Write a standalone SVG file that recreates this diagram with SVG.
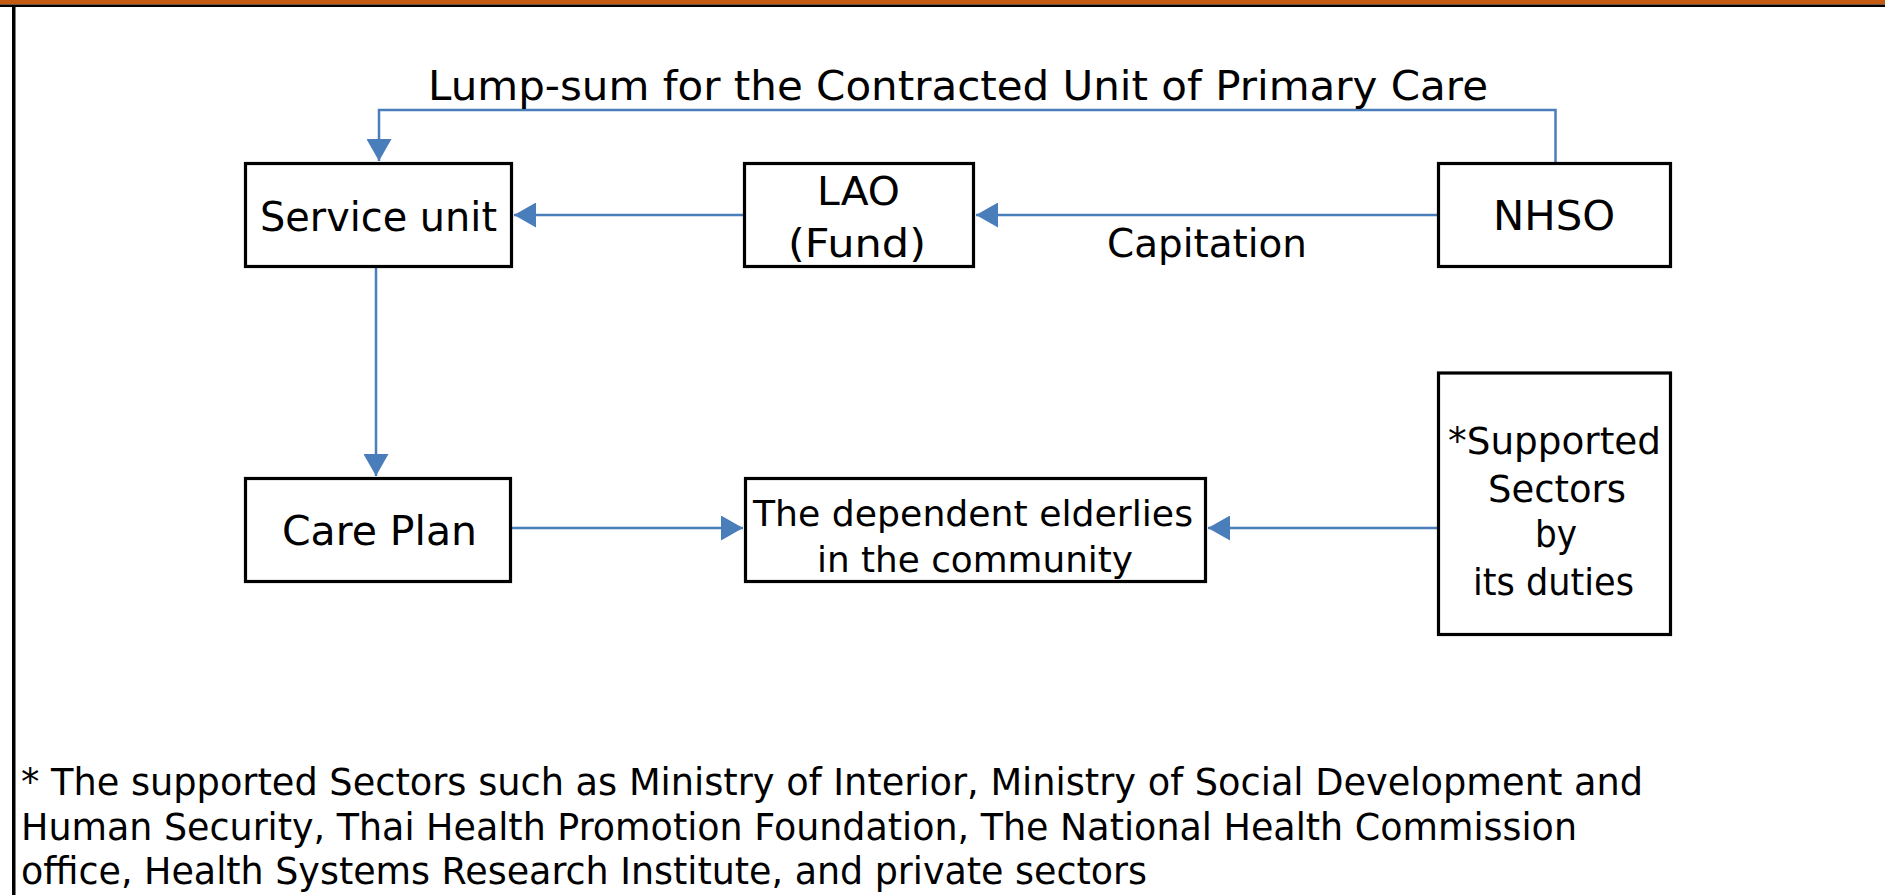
<svg xmlns="http://www.w3.org/2000/svg" width="1885" height="895" viewBox="0 0 1885 895">
<style>
.box{fill:#ffffff;stroke:#000000;stroke-width:3.2}
.t{font-family:"DejaVu Sans","Liberation Sans",sans-serif;fill:#000000}
.c{fill:none;stroke:#4A7EBB;stroke-width:2.5}
</style>
<defs>
<marker id="ah" markerUnits="userSpaceOnUse" markerWidth="22" markerHeight="25" refX="22" refY="12.5" orient="auto">
<path d="M0,0 L22,12.5 L0,25 z" fill="#4A7EBB"/>
</marker>
</defs>
<rect x="0" y="0" width="1885" height="895" fill="#ffffff"/>
<rect x="0" y="0" width="1885" height="4.5" fill="#C55A11"/>
<rect x="0" y="4.5" width="1885" height="2.5" fill="#000000"/>
<rect x="12" y="5" width="3.5" height="890" fill="#000000"/>
<g id="connectors">
<path class="c" d="M1555.5,162 V110 H379 V161" marker-end="url(#ah)"/>
<path class="c" d="M743,215 H514" marker-end="url(#ah)"/>
<path class="c" d="M1437,215 H976" marker-end="url(#ah)"/>
<path class="c" d="M376,268 V476" marker-end="url(#ah)"/>
<path class="c" d="M512,528 H743" marker-end="url(#ah)"/>
<path class="c" d="M1437,528 H1208" marker-end="url(#ah)"/>
<text class="t" x="428" y="100" font-size="40" textLength="1060" lengthAdjust="spacingAndGlyphs">Lump-sum for the Contracted Unit of Primary Care</text>
<text class="t" x="1107" y="257" font-size="39" textLength="200" lengthAdjust="spacingAndGlyphs">Capitation</text>
</g>
<g id="service-unit">
<rect class="box" x="245.5" y="163.5" width="266" height="103"/>
<text class="t" x="260" y="231" font-size="40" textLength="237" lengthAdjust="spacingAndGlyphs">Service unit</text>
</g>
<g id="lao">
<rect class="box" x="744.5" y="163.5" width="229" height="103"/>
<text class="t" x="817" y="205" font-size="39" textLength="83" lengthAdjust="spacingAndGlyphs">LAO</text>
<text class="t" x="788" y="257" font-size="39" textLength="138" lengthAdjust="spacingAndGlyphs">(Fund)</text>
</g>
<g id="nhso">
<rect class="box" x="1438.5" y="163.5" width="232" height="103"/>
<text class="t" x="1493" y="230" font-size="40" textLength="122" lengthAdjust="spacingAndGlyphs">NHSO</text>
</g>
<g id="care-plan">
<rect class="box" x="245.5" y="478.5" width="265" height="103"/>
<text class="t" x="282" y="545" font-size="40" textLength="195" lengthAdjust="spacingAndGlyphs">Care Plan</text>
</g>
<g id="elderly">
<rect class="box" x="745.5" y="478.5" width="460" height="103"/>
<text class="t" x="753" y="526" font-size="36" textLength="440" lengthAdjust="spacingAndGlyphs">The dependent elderlies</text>
<text class="t" x="817" y="572" font-size="36" textLength="316" lengthAdjust="spacingAndGlyphs">in the community</text>
</g>
<g id="supported">
<rect class="box" x="1438.5" y="373" width="232" height="261.5"/>
<text class="t" x="1448" y="454" font-size="38" textLength="213" lengthAdjust="spacingAndGlyphs">*Supported</text>
<text class="t" x="1488" y="502" font-size="38" textLength="138" lengthAdjust="spacingAndGlyphs">Sectors</text>
<text class="t" x="1535" y="547" font-size="38" textLength="42" lengthAdjust="spacingAndGlyphs">by</text>
<text class="t" x="1473" y="595" font-size="38" textLength="161" lengthAdjust="spacingAndGlyphs">its duties</text>
</g>
<g id="footnote">
<text class="t" x="21" y="795" font-size="37" textLength="1622" lengthAdjust="spacingAndGlyphs">* The supported Sectors such as Ministry of Interior, Ministry of Social Development and</text>
<text class="t" x="21" y="840" font-size="37" textLength="1556" lengthAdjust="spacingAndGlyphs">Human Security, Thai Health Promotion Foundation, The National Health Commission</text>
<text class="t" x="21" y="884" font-size="37" textLength="1126" lengthAdjust="spacingAndGlyphs">office, Health Systems Research Institute, and private sectors</text>
</g>
</svg>
